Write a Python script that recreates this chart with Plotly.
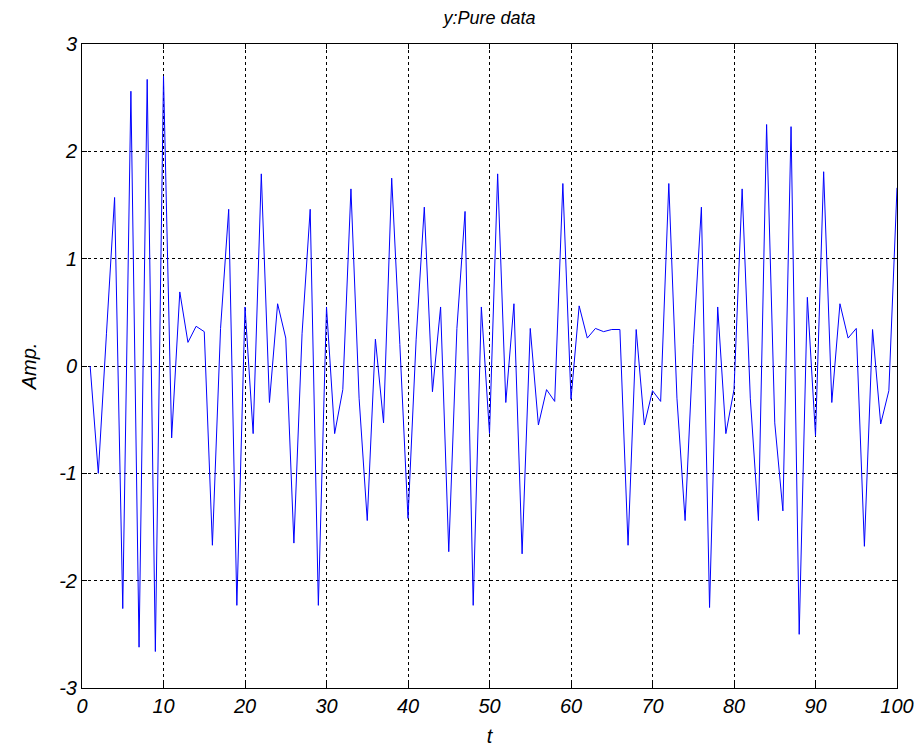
import plotly.graph_objects as go

t = list(range(1, 101))
y = [
    0.0, -1.0, 0.3, 1.57, -2.26, 2.56, -2.62, 2.67, -2.66, 2.70,
    -0.67, 0.69, 0.22, 0.37, 0.32, -1.67, 0.35, 1.46, -2.23, 0.55,
    -0.63, 1.79, -0.34, 0.58, 0.26, -1.65, 0.3, 1.46, -2.23, 0.55,
    -0.63, -0.22, 1.65, -0.30, -1.44, 0.25, -0.53, 1.75, 0.2, -1.42,
    0.25, 1.48, -0.24, 0.55, -1.73, 0.35, 1.44, -2.23, 0.55, -0.63,
    1.79, -0.34, 0.58, -1.75, 0.35, -0.55, -0.22, -0.33, 1.70, -0.31,
    0.56, 0.26, 0.35, 0.32, 0.34, 0.34, -1.67, 0.34, -0.55, -0.23,
    -0.33, 1.70, -0.30, -1.44, 0.2, 1.48, -2.25, 0.55, -0.63, -0.22,
    1.65, -0.30, -1.44, 2.25, -0.53, -1.35, 2.23, -2.50, 0.64, -0.65,
    1.81, -0.34, 0.58, 0.26, 0.35, -1.68, 0.34, -0.54, -0.23, 1.66,
]

title_text = "y:Pure data"
x_label = "t"
y_label = "Amp."
x_ticks = [0, 10, 20, 30, 40, 50, 60, 70, 80, 90, 100]
y_ticks = [-3, -2, -1, 0, 1, 2, 3]
y_tick_labels = ["-3", "-2", "-1", "0", "1", "2", "3"]

font_family = "Liberation Sans, Arial, sans-serif"

fig = go.Figure()
fig.add_trace(go.Scatter(x=t, y=y, mode="lines",
                         line=dict(color="rgb(0,0,255)", width=1),
                         showlegend=False))

axis_common = dict(
    showgrid=True, gridcolor="black", griddash="3px,3px", gridwidth=1,
    showline=True, linecolor="black", linewidth=1, mirror="ticks",
    ticks="inside", ticklen=5, tickcolor="black",
    zeroline=False, automargin=False,
    tickfont=dict(family=font_family, size=20, color="black", style="italic"),
)

# page body has an 8px default margin, so the figure is sized to compensate
fig.update_layout(
    width=914, height=747,
    paper_bgcolor="white", plot_bgcolor="white",
    margin=dict(l=74, r=25, t=36, b=67, autoexpand=False),
    title=dict(text=title_text, x=0.5, xanchor="center", xref="paper",
               y=1.0, yref="container", yanchor="top", pad=dict(t=3),
               font=dict(family=font_family, size=18, color="black", style="italic")),
    xaxis=dict(range=[0, 100], tickvals=x_ticks,
               title=dict(text=x_label, standoff=12,
                          font=dict(family=font_family, size=20, color="black", style="italic")),
               **axis_common),
    yaxis=dict(range=[-3, 3], tickvals=y_ticks, ticktext=y_tick_labels,
               title=dict(text=y_label, standoff=17,
                          font=dict(family=font_family, size=20, color="black", style="italic")),
               **axis_common),
)

fig.write_html("out.html")
